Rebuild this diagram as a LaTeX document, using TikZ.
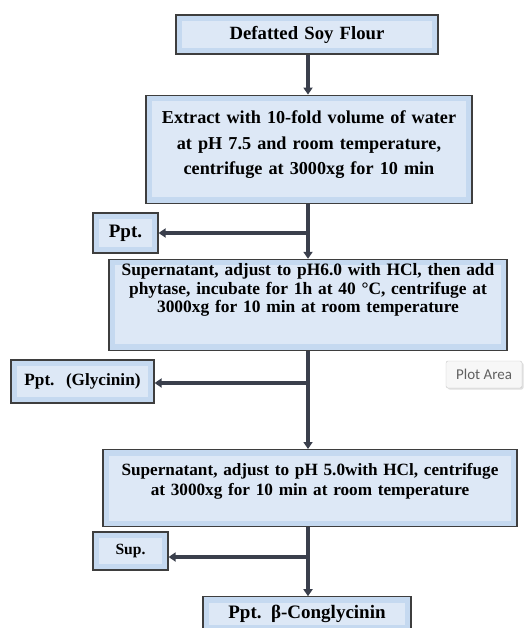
\documentclass[tikz,border=0pt]{standalone}
\usepackage{fontspec}
\setmainfont{Liberation Serif}
\newfontfamily\tipfont{Carlito}
\usetikzlibrary{arrows.meta,positioning,shadows}
\definecolor{boxblue}{RGB}{197,217,240}
\definecolor{boxpale}{RGB}{221,232,246}
\definecolor{boxline}{RGB}{62,62,62}
\definecolor{arrowgrey}{RGB}{58,63,76}

\begin{document}
\begin{tikzpicture}[x=1pt,y=-1pt,
    every node/.style={font=\bfseries,align=center,inner sep=0pt},
    stepbox/.style={draw=boxline,line width=1.2pt,fill=boxblue,
      path picture={\fill[boxpale] ([xshift=6pt,yshift=-6pt]path picture bounding box.north west)
        rectangle ([xshift=-6pt,yshift=6pt]path picture bounding box.south east);}},
    flow/.style={draw=arrowgrey,line width=3.5pt,-{Triangle[width=9pt,length=7pt]}}
    ]

  \useasboundingbox (0,0) rectangle (528,628);

  % main column
  \node[stepbox,text width=262pt,minimum height=39pt,font=\bfseries\fontsize{18.7}{25}\selectfont] (soy) at (307,34.5) {Defatted Soy Flour};
  \node[stepbox,text width=326pt,minimum height=108pt,text depth=64pt,font=\bfseries\fontsize{18.2}{25.5}\selectfont,below=40pt of soy,xshift=2pt] (extract) {Extract with 10-fold volume of water\\at pH 7.5 and room temperature,\\centrifuge at 3000xg for 10 min};
  \node[stepbox,text width=398pt,minimum height=91pt,text depth=70pt,font=\bfseries\fontsize{17.4}{18.5}\selectfont,below=55pt of extract,xshift=-1pt] (super1) {Supernatant, adjust to pH6.0 with HCl, then add\\phytase, incubate for 1h at 40 °C, centrifuge at\\3000xg for 10 min at room temperature};
  \node[stepbox,text width=414pt,minimum height=77pt,text depth=37pt,font=\bfseries\fontsize{17.2}{19.5}\selectfont,below=98pt of super1,xshift=2pt] (super2) {Supernatant, adjust to pH 5.0with HCl, centrifuge\\at 3000xg for 10 min at room temperature};
  \node[stepbox,text width=208pt,minimum height=34pt,font=\bfseries\fontsize{19}{22}\selectfont,below=69pt of super2,xshift=-3pt] (final) {Ppt. β-Conglycinin};

  % side boxes
  \node[stepbox,text width=65pt,minimum height=40pt,font=\bfseries\fontsize{19}{22}\selectfont] (ppt1) at (125.5,233) {Ppt.};
  \node[stepbox,text width=143pt,minimum height=43pt,font=\bfseries\fontsize{17.2}{20}\selectfont] (glyc) at (82.5,381.5) {Ppt.\ \ (Glycinin)};
  \node[stepbox,text width=75pt,minimum height=38pt,font=\bfseries\fontsize{15.6}{18}\selectfont] (sup) at (130.5,551) {Sup.};

  \node[draw=gray!45,fill=gray!6,rounded corners=2pt,drop shadow={opacity=0.25,shadow xshift=1.5pt,shadow yshift=-1.5pt},
    font=\tipfont\fontsize{15}{18}\selectfont,text=gray!75!black,minimum width=76pt,minimum height=27pt] (tip) at (484,374.5) {Plot Area};

  % arrows
  \coordinate (trunk) at (308,0);
  \coordinate (split1) at (308,233);
  \coordinate (split2) at (308,383);
  \coordinate (split3) at (308,557);
  \draw[flow] (soy.south -| trunk) -- (extract.north -| trunk);
  \draw[flow] (extract.south -| trunk) -- (super1.north -| trunk);
  \draw[flow] (super1.south -| trunk) -- (super2.north -| trunk);
  \draw[flow] (super2.south -| trunk) -- (final.north -| trunk);
  \draw[flow,line width=4pt] (split1) -- (split1 -| ppt1.east);
  \draw[flow,line width=4pt] (split2) -- (split2 -| glyc.east);
  \draw[flow,line width=4pt] (split3) -- (split3 -| sup.east);
\end{tikzpicture}
\end{document}
